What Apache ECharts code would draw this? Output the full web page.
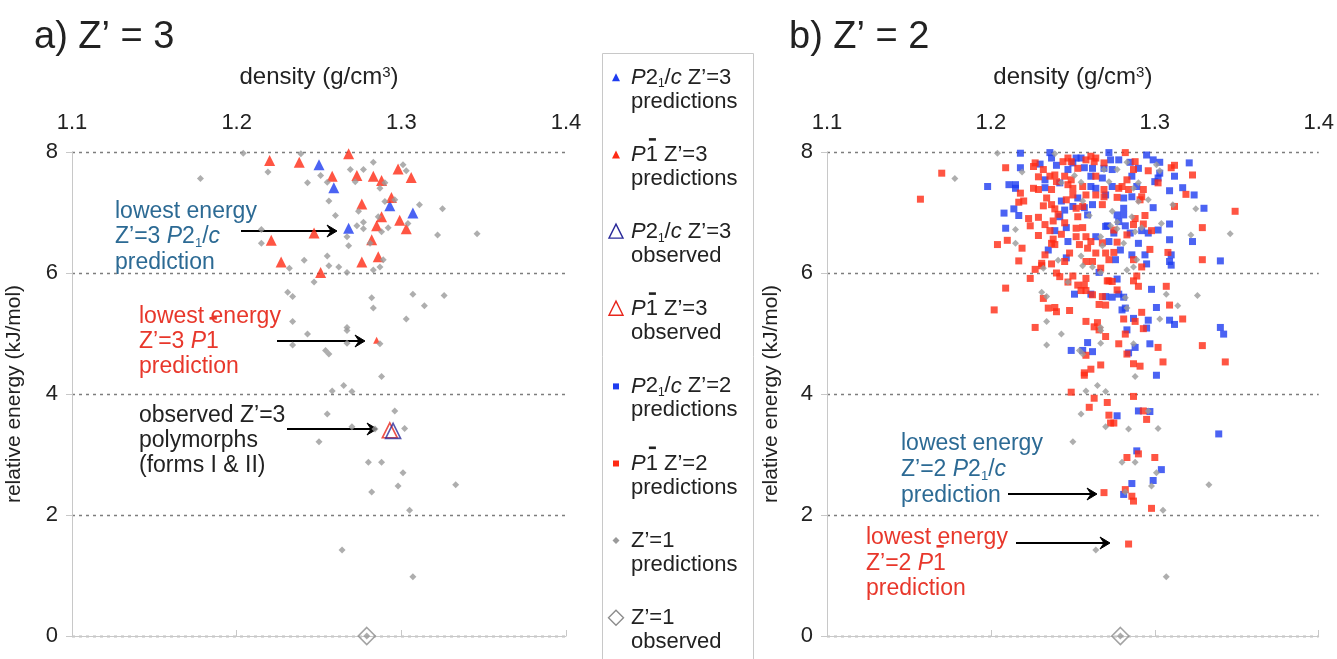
<!DOCTYPE html>
<html><head><meta charset="utf-8">
<script src="https://cdn.jsdelivr.net/npm/echarts@6/dist/echarts.min.js"></script>
<style>html,body{margin:0;padding:0;background:#fff}#c{width:1337px;height:659px}</style>
</head><body><div id="c"></div>
<script>
// ---------- data ----------
const xTickLabels = ['1.1','1.2','1.3','1.4'];
const yTickLabels = ['0','2','4','6','8'];

// Z'=1 predictions (same set on both panels) [density, relative energy]
const z1Pred = [[1.204,7.98],[1.239,7.97],[1.283,7.83],[1.301,7.79],[1.219,7.67],[1.178,7.56],[1.251,7.61],[1.269,7.71],[1.277,7.71],[1.303,7.69],[1.243,7.49],[1.255,7.50],[1.272,7.51],[1.287,7.40],[1.290,7.49],[1.256,7.19],[1.296,7.21],[1.290,7.18],[1.311,7.13],[1.325,7.06],[1.274,7.02],[1.260,6.95],[1.277,6.84],[1.304,6.82],[1.273,6.78],[1.277,6.73],[1.292,6.75],[1.288,6.68],[1.215,6.72],[1.215,6.49],[1.267,6.60],[1.268,6.45],[1.281,6.49],[1.322,6.63],[1.346,6.65],[1.286,6.93],[1.241,6.21],[1.255,6.28],[1.289,6.22],[1.232,6.08],[1.256,6.12],[1.262,6.10],[1.283,6.05],[1.287,6.10],[1.267,6.01],[1.247,5.85],[1.231,5.68],[1.234,5.61],[1.282,5.59],[1.307,5.65],[1.326,5.63],[1.283,5.42],[1.314,5.46],[1.303,5.24],[1.234,5.20],[1.267,5.10],[1.267,5.05],[1.267,4.84],[1.243,4.99],[1.234,4.81],[1.254,4.72],[1.256,4.66],[1.287,4.83],[1.288,4.29],[1.265,4.14],[1.258,4.05],[1.270,4.04],[1.296,3.72],[1.255,3.67],[1.270,3.46],[1.302,3.43],[1.284,3.42],[1.250,3.21],[1.280,2.87],[1.288,2.87],[1.301,2.70],[1.282,2.38],[1.298,2.48],[1.333,2.50],[1.305,2.08],[1.264,1.42],[1.307,0.98],[1.279,0.0]];
const z1Obs = [[1.279,0.0]];

// panel a) Z'=3
const p21cZ3Pred = [[1.250,7.79],[1.259,7.41],[1.293,7.11],[1.307,6.99],[1.268,6.74]];
const p1Z3Pred = [[1.220,7.86],[1.238,7.83],[1.268,7.97],[1.258,7.60],[1.273,7.61],[1.283,7.60],[1.288,7.53],[1.298,7.72],[1.306,7.58],[1.294,7.25],[1.276,7.14],[1.288,6.93],[1.299,6.87],[1.285,6.78],[1.303,6.73],[1.247,6.66],[1.221,6.54],[1.282,6.55],[1.227,6.18],[1.276,6.18],[1.286,6.27],[1.251,6.01]];
const p1Z3Lowest = [[1.285,4.89]];
const p21cZ3Obs = [[1.295,3.39]];
const p1Z3Obs = [[1.293,3.40]];

// panel b) Z'=2
const p21cZ2Pred = [[1.218,7.98],[1.218,7.74],[1.198,7.43],[1.211,7.46],[1.215,7.46],[1.215,7.40],[1.208,6.99],[1.214,7.06],[1.217,6.95],[1.209,6.74],[1.235,6.38],[1.236,7.99],[1.237,7.90],[1.230,7.80],[1.240,7.78],[1.233,7.54],[1.233,7.41],[1.242,7.49],[1.247,7.71],[1.250,7.82],[1.252,7.90],[1.255,7.90],[1.257,7.74],[1.262,7.73],[1.261,7.60],[1.261,7.43],[1.264,7.40],[1.268,7.57],[1.269,7.73],[1.243,7.19],[1.245,7.04],[1.242,6.93],[1.250,7.10],[1.253,7.24],[1.257,7.08],[1.262,7.13],[1.259,6.96],[1.246,6.75],[1.239,6.70],[1.264,6.60],[1.270,6.77],[1.247,6.52],[1.246,6.25],
[1.272,7.99],[1.273,7.87],[1.278,7.87],[1.285,7.83],[1.295,7.95],[1.299,7.87],[1.303,7.83],[1.321,7.82],[1.303,7.65],[1.302,7.57],[1.300,7.51],[1.312,7.60],[1.290,7.73],[1.286,7.60],[1.274,7.71],[1.274,7.43],[1.289,7.43],[1.317,7.41],[1.309,7.36],[1.324,7.29],[1.281,7.24],[1.286,7.26],[1.270,7.29],[1.299,7.08],[1.330,7.07],[1.277,6.96],[1.281,6.96],[1.281,7.07],[1.278,6.85],[1.282,6.78],[1.271,6.78],[1.309,6.81],[1.302,6.71],[1.275,6.66],[1.285,6.66],[1.292,6.70],[1.296,6.66],[1.272,6.52],[1.290,6.49],[1.323,6.52],[1.309,6.55],[1.279,6.38],[1.286,6.30],[1.294,6.30],[1.310,6.30],[1.276,6.22],[1.309,6.19],[1.340,6.20],
[1.266,6.01],[1.251,5.65],[1.261,5.65],[1.270,5.61],[1.259,4.85],[1.249,4.72],[1.256,4.72],[1.262,4.70],
[1.295,6.15],[1.310,6.13],[1.277,5.90],[1.298,5.73],[1.274,5.60],[1.278,5.65],[1.281,5.60],[1.280,5.39],[1.282,5.42],[1.301,5.43],[1.287,5.25],[1.296,5.22],[1.309,5.22],[1.312,5.15],[1.295,5.09],[1.283,5.06],[1.340,5.10],[1.342,4.99],[1.297,4.83],[1.288,4.77],[1.284,4.68],[1.301,4.31],
[1.277,3.64],[1.290,3.72],[1.297,3.71],[1.339,3.34],[1.289,3.06],[1.304,2.75],[1.299,2.57],[1.286,2.52],[1.281,2.34]];
const p1Z2Pred = [[1.170,7.65],[1.157,7.22],[1.209,7.74],[1.204,6.47],[1.210,6.54],[1.219,6.41],[1.217,6.20],[1.218,7.32],[1.220,7.19],[1.217,7.17],[1.223,6.90],[1.224,6.78],[1.229,6.92],[1.233,6.80],[1.229,6.62],[1.226,7.76],[1.227,7.82],[1.229,7.59],[1.226,7.40],[1.229,7.38],[1.232,7.71],[1.236,7.60],[1.237,7.38],[1.239,7.62],[1.240,7.51],[1.244,7.84],[1.234,7.24],[1.232,7.11],[1.237,7.13],[1.239,7.06],[1.241,6.97],[1.238,6.86],[1.245,6.83],[1.236,6.70],[1.238,6.56],[1.239,6.47],[1.243,6.64],[1.245,7.60],[1.247,7.46],[1.249,7.54],[1.250,7.29],[1.250,7.40],[1.246,7.21],[1.247,7.90],[1.249,7.84],[1.253,7.73],[1.258,7.87],[1.261,7.93],[1.264,7.90],[1.263,7.84],[1.252,7.07],[1.253,6.93],[1.256,7.10],[1.258,7.29],[1.256,7.43],[1.252,6.74],[1.256,6.75],[1.258,6.60],[1.252,6.60],[1.254,6.47],[1.259,6.41],[1.261,6.52],[1.268,7.13],[1.269,7.26],[1.264,7.29],[1.264,7.60],[1.237,6.49],[1.233,6.30],[1.231,6.16],[1.245,6.19],[1.258,6.19],[1.262,6.19],[1.248,6.33],[1.264,6.33],[1.270,6.33],
[1.282,7.99],[1.269,7.82],[1.288,7.84],[1.287,7.71],[1.296,7.69],[1.310,7.74],[1.312,7.78],[1.323,7.62],[1.283,7.54],[1.280,7.43],[1.278,7.40],[1.293,7.38],[1.284,7.38],[1.302,7.49],[1.269,7.38],[1.277,7.25],[1.292,7.26],[1.291,7.21],[1.319,7.30],[1.312,7.10],[1.349,7.02],[1.294,6.95],[1.288,6.90],[1.287,6.80],[1.293,6.81],[1.275,6.71],[1.329,6.75],[1.298,6.70],[1.277,6.51],[1.268,6.50],[1.275,6.34],[1.297,6.39],[1.308,6.34],[1.272,6.22],[1.287,6.22],[1.329,6.22],[1.283,6.63],
[1.227,6.06],[1.231,6.12],[1.237,6.15],[1.240,6.00],[1.242,5.94],[1.250,5.95],[1.258,5.91],[1.267,6.08],[1.224,5.91],[1.209,5.75],[1.202,5.39],[1.247,5.85],[1.253,5.80],[1.257,5.80],[1.255,5.71],[1.258,5.71],[1.262,5.64],[1.268,5.61],[1.266,5.48],[1.270,5.47],[1.232,5.58],[1.235,5.42],[1.239,5.43],[1.240,5.36],[1.248,5.38],[1.258,5.20],[1.265,5.18],[1.263,5.11],[1.266,5.06],[1.270,4.95],[1.227,5.10],[1.258,4.64],[1.267,4.48],[1.261,4.41],[1.257,4.35],[1.271,5.87],
[1.292,6.10],[1.289,5.95],[1.287,5.87],[1.290,5.78],[1.272,5.87],[1.274,5.86],[1.277,5.72],[1.307,5.78],[1.309,5.47],[1.292,5.35],[1.281,5.24],[1.288,5.20],[1.317,5.24],[1.293,5.08],[1.282,4.99],[1.278,4.83],[1.302,4.77],[1.329,4.80],[1.305,4.53],[1.343,4.53],[1.287,4.50],[1.291,4.46],[1.283,4.66],
[1.257,4.31],[1.249,4.03],[1.263,3.93],[1.260,3.78],[1.271,3.86],[1.287,3.96],[1.272,3.65],[1.273,3.52],[1.275,3.52],[1.293,3.72],[1.295,3.58],[1.283,2.95],[1.290,3.01],[1.300,2.95],[1.269,2.37],[1.282,2.42],[1.286,2.31],[1.287,2.23],[1.298,2.11],[1.284,1.52]];

// ---------- styles ----------
const FONT = '"Liberation Sans", Arial, sans-serif';
const BLUE = '#1e3cf0', RED = '#ff2a14', GRAY = '#9a9a9a';
const TXT = '#222';
const NBLUE = '#2c6a94', NRED = '#e8372b';

const mctx = document.createElement('canvas').getContext('2d');
function tw(t, font) { mctx.font = font; return mctx.measureText(t).width; }

const xMin = +xTickLabels[0], xMax = +xTickLabels[xTickLabels.length-1];
const yMin = +yTickLabels[0], yMax = +yTickLabels[yTickLabels.length-1];

function xAx(gi) {
  return {
    type: 'value', gridIndex: gi, position: 'top', min: xMin, max: xMax, interval: 0.1,
    axisLine: {show: true, lineStyle: {color: '#c8c8c8', width: 1}},
    axisTick: {show: true, length: 6, lineStyle: {color: '#c8c8c8'}},
    axisLabel: {fontSize: 22, color: TXT, margin: 18, fontFamily: FONT, formatter: v => v.toFixed(1)},
    splitLine: {show: false},
    name: 'density (g/cm{sup|3})', nameLocation: 'middle', nameGap: 63,
    nameTextStyle: {fontSize: 24, color: TXT, fontFamily: FONT, rich: {
      sup: {fontSize: 15, verticalAlign: 'top', fontFamily: FONT, padding: [0,0,9,0], color: TXT}
    }}
  };
}
function yAx(gi, gap) {
  return {
    type: 'value', gridIndex: gi, min: yMin, max: yMax, interval: 2,
    axisLine: {show: true, lineStyle: {color: '#c8c8c8', width: 1}},
    axisTick: {show: true, length: 6, lineStyle: {color: '#c8c8c8'}},
    axisLabel: {fontSize: 22, color: TXT, margin: 14, fontFamily: FONT},
    splitLine: {show: true, lineStyle: {color: '#7d7d7d', width: 1.4, type: [3, 4]}},
    name: 'relative energy (kJ/mol)', nameLocation: 'middle', nameGap: gap,
    nameTextStyle: {fontSize: 21, color: TXT, fontFamily: FONT}
  };
}
function sc(name, data, gi, symbol, size, style, z) {
  return {type: 'scatter', name, data, xAxisIndex: gi, yAxisIndex: gi, symbol, symbolSize: size,
    itemStyle: style, z: z || 2, emphasis: {disabled: true}, silent: true};
}
const openStyle = c => ({color: 'rgba(0,0,0,0)', borderColor: c, borderWidth: 1.6});

// ---------- annotations (graphic) ----------
function arrow(x1, x2, y) {
  return {type: 'group', children: [
    {type: 'line', shape: {x1, y1: y, x2: x2 - 6, y2: y}, style: {stroke: '#000', lineWidth: 2.2}},
    {type: 'polygon', shape: {points: [[x2, y], [x2 - 10, y - 6], [x2 - 6, y], [x2 - 10, y + 6]]}, style: {fill: '#000', stroke: '#000', lineWidth: 1}}
  ]};
}
function richFor(fs, color, lh) {
  return {
    i: {fontStyle: 'italic', fontSize: fs, fill: color, lineHeight: lh, fontFamily: FONT},
    sub: {fontSize: Math.round(fs * 0.56), fill: color, verticalAlign: 'bottom', lineHeight: lh, padding: [Math.round(fs * 0.45),0,0,0], fontFamily: FONT}
  };
}
const AFS = 23;
function note(x, yFirst, text, color, lh) {
  return {type: 'text', x, y: yFirst - lh / 2, style: {text, fill: color, font: AFS + 'px ' + FONT, lineHeight: lh,
    verticalAlign: 'top', rich: richFor(AFS, color, lh)}};
}
// overbar over the "1" of P1 (drawn as a short bar)
function overbar(xText, prefix, fs, y, color) {
  const x0 = xText + tw(prefix, fs + 'px ' + FONT) + tw('P', 'italic ' + fs + 'px ' + FONT);
  const w1 = tw('1', fs + 'px ' + FONT);
  const bw = fs * 0.32;
  return {type: 'rect', shape: {x: x0 + w1 * 0.55 - bw / 2, y: y, width: bw, height: 2.6}, style: {fill: color}, z: 10};
}
const P21c = '{i|P}2{sub|1}/{i|c}';
const P1b = '{i|P}1';

// legend drawn as a key box
function legendIcon(kind, cx, cy) {
  const tri = s => [[cx, cy - s * 0.58], [cx + s / 2, cy + s * 0.42], [cx - s / 2, cy + s * 0.42]];
  switch (kind) {
    case 'triB': return {type: 'polygon', shape: {points: tri(8)}, style: {fill: BLUE}};
    case 'triR': return {type: 'polygon', shape: {points: tri(8)}, style: {fill: RED}};
    case 'otriB': return {type: 'polygon', shape: {points: tri(14)}, style: {fill: 'none', stroke: '#2b2b9a', lineWidth: 1.4}};
    case 'otriR': return {type: 'polygon', shape: {points: tri(14)}, style: {fill: 'none', stroke: '#e8261c', lineWidth: 1.4}};
    case 'sqB': return {type: 'rect', shape: {x: cx - 3, y: cy - 3, width: 6, height: 6}, style: {fill: BLUE}};
    case 'sqR': return {type: 'rect', shape: {x: cx - 3, y: cy - 3, width: 6, height: 6}, style: {fill: RED}};
    case 'dia': return {type: 'polygon', shape: {points: [[cx, cy - 3.5], [cx + 3.5, cy], [cx, cy + 3.5], [cx - 3.5, cy]]}, style: {fill: GRAY}};
    case 'odia': return {type: 'polygon', shape: {points: [[cx, cy - 7.5], [cx + 7.5, cy], [cx, cy + 7.5], [cx - 7.5, cy]]}, style: {fill: 'none', stroke: '#8c8c8c', lineWidth: 1.4}};
  }
}
const legendItems = [
  ['triB', P21c + ' Z’=3\npredictions'],
  ['triR', P1b + ' Z’=3\npredictions'],
  ['otriB', P21c + ' Z’=3\nobserved'],
  ['otriR', P1b + ' Z’=3\nobserved'],
  ['sqB', P21c + ' Z’=2\npredictions'],
  ['sqR', P1b + ' Z’=2\npredictions'],
  ['dia', 'Z’=1\npredictions'],
  ['odia', 'Z’=1\nobserved']
];
const LFS = 22, LX = 631;
const legendGraphics = [{type: 'rect', shape: {x: 602.5, y: 53.5, width: 151, height: 640}, style: {fill: '#fff', stroke: '#c8c8c8', lineWidth: 1}, z: 0}];
legendItems.forEach((it, k) => {
  const cy = 78 + k * 77.1;
  legendGraphics.push(legendIcon(it[0], 616, cy));
  legendGraphics.push({type: 'text', x: LX, y: cy - 12, style: {text: it[1], fill: TXT, font: LFS + 'px ' + FONT, lineHeight: 24, verticalAlign: 'top',
    rich: richFor(LFS, TXT, 24)}});
  if (it[1].indexOf(P1b + ' ') === 0) legendGraphics.push(overbar(LX, '', LFS, cy - 17, TXT));
});

const option = {
  animation: false,
  backgroundColor: '#fff',
  textStyle: {fontFamily: FONT},
  grid: [
    {left: 72, top: 152, width: 494, height: 484},
    {left: 827, top: 152, width: 493, height: 484}
  ],
  xAxis: [xAx(0), xAx(1)],
  yAxis: [yAx(0, 47), yAx(1, 45)],
  series: [
    sc('P21/c Z\'=3 predictions', p21cZ3Pred, 0, 'triangle', 11, {color: BLUE}, 2),
    sc('P-1 Z\'=3 predictions', p1Z3Pred, 0, 'triangle', 11, {color: RED}, 3),
    sc('P-1 Z\'=3 predictions', p1Z3Lowest, 0, 'triangle', 7, {color: RED}, 3),
    sc('Z\'=1 predictions', z1Pred, 0, 'diamond', 7, {color: GRAY}, 4),
    sc('P-1 Z\'=3 observed', p1Z3Obs, 0, 'triangle', 15, openStyle('#e8261c'), 5),
    sc('P21/c Z\'=3 observed', p21cZ3Obs, 0, 'triangle', 15, openStyle('#2b2b9a'), 5),
    sc('Z\'=1 observed', z1Obs, 0, 'diamond', 17, openStyle('#8c8c8c'), 5),
    sc('P21/c Z\'=2 predictions', p21cZ2Pred, 1, 'rect', 7, {color: BLUE}, 2),
    sc('P-1 Z\'=2 predictions', p1Z2Pred, 1, 'rect', 7, {color: RED}, 3),
    sc('Z\'=1 predictions', z1Pred, 1, 'diamond', 7, {color: GRAY}, 4),
    sc('Z\'=1 observed', z1Obs, 1, 'diamond', 17, openStyle('#8c8c8c'), 5)
  ],
  graphic: [
    {type: 'text', x: 34, y: 19, style: {text: 'a) Z’ = 3', fill: TXT, font: '38px ' + FONT}},
    {type: 'text', x: 789, y: 19, style: {text: 'b) Z’ = 2', fill: TXT, font: '38px ' + FONT}},
    note(115, 211.5, 'lowest energy\nZ’=3 ' + P21c + '\nprediction', NBLUE, 25.5),
    arrow(241, 337, 231),
    note(139, 316.5, 'lowest energy\nZ’=3 ' + P1b + '\nprediction', NRED, 25),
    overbar(139, 'Z’=3 ', AFS, 317, NRED),
    arrow(277, 365, 341),
    note(139, 415.5, 'observed Z’=3\npolymorphs\n(forms I & II)', TXT, 25),
    arrow(287, 377, 429),
    note(901, 444, 'lowest energy\nZ’=2 ' + P21c + '\nprediction', NBLUE, 26),
    arrow(1008, 1097, 494),
    note(866, 538, 'lowest energy\nZ’=2 ' + P1b + '\nprediction', NRED, 25.5),
    overbar(866, 'Z’=2 ', AFS, 545, NRED),
    arrow(1016, 1110, 543)
  ].concat(legendGraphics)
};
const chart = echarts.init(document.getElementById('c'), null, {renderer: 'canvas'});
chart.setOption(option);
</script></body></html>
